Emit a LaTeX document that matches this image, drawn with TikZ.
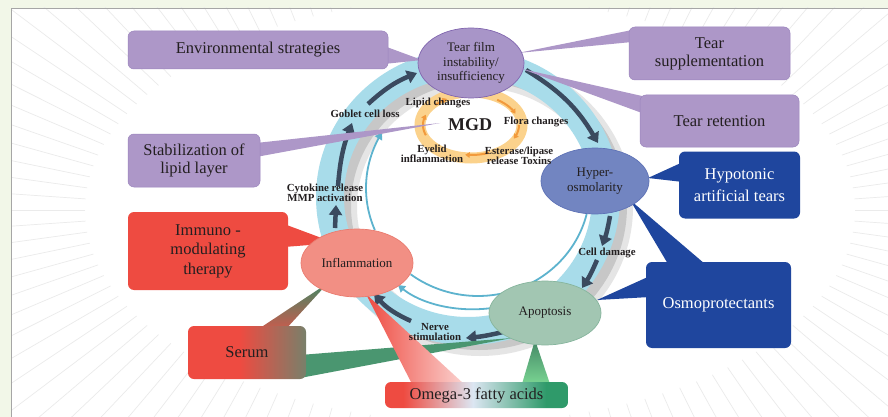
\documentclass[tikz,border=0pt]{standalone}
\usepackage{fontspec}
\setmainfont{Liberation Serif}
\usetikzlibrary{shapes.geometric,arrows.meta,calc}
\definecolor{outerbg}{HTML}{F2F7E8}
\definecolor{purplebox}{HTML}{AD97C8}
\definecolor{purpleborder}{HTML}{9B85BD}
\definecolor{tfill}{HTML}{A895C8}
\definecolor{tborder}{HTML}{8166AF}
\definecolor{darkblue}{HTML}{1F469E}
\definecolor{hyperfill}{HTML}{7285C1}
\definecolor{hyperborder}{HTML}{5E72B6}
\definecolor{redbox}{HTML}{EE4B41}
\definecolor{inflamfill}{HTML}{F28F84}
\definecolor{inflamborder}{HTML}{EA7C70}
\definecolor{apopfill}{HTML}{A2C6B2}
\definecolor{apopborder}{HTML}{86B59D}
\definecolor{greenw}{HTML}{4A9670}
\definecolor{bandblue}{HTML}{A8DCEA}
\definecolor{thinb}{HTML}{5DB3CE}
\definecolor{darkarr}{HTML}{3A4A5F}
\definecolor{oring}{HTML}{FBD28C}
\definecolor{oarrc}{HTML}{F29A3C}
\definecolor{txt}{HTML}{231F20}
\definecolor{olivec}{HTML}{78806A}
\definecolor{lightmid}{HTML}{DCE6F2}
\definecolor{greenr}{HTML}{2F9A6A}
\pgfdeclarehorizontalshading{serumshade}{100bp}{color(0bp)=(redbox); color(25bp)=(redbox); color(47bp)=(redbox); color(75bp)=(olivec); color(100bp)=(olivec)}
\pgfdeclarehorizontalshading{omegashade}{100bp}{color(0bp)=(redbox); color(25bp)=(redbox); color(30bp)=(redbox); color(49bp)=(lightmid); color(69bp)=(greenr); color(100bp)=(greenr)}
\begin{document}
\begin{tikzpicture}[x=1pt,y=-1pt,
  boxbase/.style={rectangle, rounded corners=6pt, align=center, inner sep=0pt, font=\fontsize{16.5}{18}\selectfont},
  pbox/.style={boxbase, fill=purplebox, draw=purpleborder, line width=0.5pt, text=txt},
  bbox/.style={boxbase, fill=darkblue, text=white, font=\fontsize{16.5}{22}\selectfont},
  rbox/.style={boxbase, fill=redbox, text=txt, font=\fontsize{16.5}{19.5}\selectfont},
  ellnode/.style={ellipse, inner sep=0pt, align=center, text=txt, line width=0.7pt, font=\fontsize{13}{14.5}\selectfont},
  lab/.style={align=center, inner sep=0pt, text=txt, font=\bfseries\fontsize{10.8}{10}\selectfont},
  darr/.style={draw=darkarr, line width=4.5pt, -{Triangle[length=10pt,width=13pt]}},
  oarr/.style={draw=oarrc, line width=2pt, -{Triangle[length=4.5pt,width=5.5pt]}},
  thinline/.style={draw=thinb, line width=1.8pt},
  thinarr/.style={thinline, -{Triangle[length=7pt,width=8pt]}}
]
\useasboundingbox (0,0) rectangle (888,417);
\fill[outerbg] (0,0) rectangle (888,417);
\fill[white] (11,8) rectangle (888,417);
\begin{scope}
  \clip (11,8) rectangle (888,417);
  \foreach \a in {0,3,...,357}
    \draw[black!8, line width=0.7pt] ($(470,210)+(\a:385 and 212)$) -- ($(470,210)+(\a:950)$);
\end{scope}
\draw[gray!70, line width=0.8pt] (11,417) -- (11,8) -- (888,8);

% shadow and band
\draw[black!10, line width=30pt] (480,207) ellipse [x radius=138, y radius=134];
\draw[black!22, line width=20pt] (479,206) ellipse [x radius=138, y radius=134];
\draw[bandblue, line width=28pt] (468,197) ellipse [x radius=138, y radius=134];

% thin blue lines
\draw[thinline] plot[domain=14:127, samples=60] ({478+112*cos(\x)},{188+108*sin(\x)});
\draw[thinarr] plot[domain=157:211, samples=30] ({478+112*cos(\x)},{188+108*sin(\x)});
\coordinate (tbs) at (492,308);
\coordinate (tbe) at (398,285);
\draw[thinarr] (tbs) .. controls (455,313) and (420,303) .. (tbe);

% orange ring
\draw[oring, line width=11pt] (471,125) ellipse [x radius=51, y radius=33];
\draw[oarr] plot[domain=160:200, samples=15] ({471+48*cos(\x)},{125+30*sin(\x)});
\draw[oarr] plot[domain=222:240, samples=10] ({471+48*cos(\x)},{125+30*sin(\x)});
\draw[oarr] plot[domain=303:338, samples=15] ({471+48*cos(\x)},{125+30*sin(\x)});
\draw[oarr] plot[domain=0:27, samples=12] ({471+48*cos(\x)},{125+30*sin(\x)});
\draw[oarr] plot[domain=68:97, samples=12] ({471+48*cos(\x)},{125+30*sin(\x)});

% dark cycle arrows
\coordinate (d1s) at (335,228); \coordinate (d1e) at (336,205);
\coordinate (d2s) at (338,186); \coordinate (d2e) at (352,123);
\coordinate (d3s) at (368,104); \coordinate (d3e) at (417,73);
\coordinate (d4s) at (526,70);  \coordinate (d4e) at (598,143);
\coordinate (d5s) at (610,216); \coordinate (d5e) at (602,246);
\coordinate (d6s) at (597,260); \coordinate (d6e) at (582,288);
\coordinate (d7s) at (503,332); \coordinate (d7e) at (466,338);
\coordinate (d8s) at (411,321); \coordinate (d8e) at (374,294);
\draw[darr] (d1s) -- (d1e);
\draw[darr] (d2s) to[bend left=8] (d2e);
\draw[darr] (d3s) to[bend left=10] (d3e);
\draw[darr] (d4s) to[bend left=14] (d4e);
\draw[darr] (d5s) to[bend left=5] (d5e);
\draw[darr] (d6s) to[bend left=5] (d6e);
\draw[darr] (d7s) to[bend left=4] (d7e);
\draw[darr] (d8s) to[bend left=12] (d8e);

% callout wedges
\fill[purplebox] (384,46) -- (422,60) -- (384,64) -- cycle;
\fill[purplebox] (518,53) -- (632,30) -- (632,42) -- cycle;
\fill[purplebox] (522,69) -- (642,96) -- (642,113) -- cycle;
\fill[purplebox] (256,143) -- (440,123) -- (256,157) -- cycle;
\fill[redbox] (284,224) -- (335,243) -- (284,247) -- cycle;
\fill[darkblue] (648,178) -- (683,162) -- (683,182) -- cycle;
\fill[darkblue] (630,200) -- (668,264) -- (705,264) -- cycle;
\fill[darkblue] (597,300) -- (650,276) -- (650,297) -- cycle;
\shade[top color=greenw!90!black, bottom color=redbox!70!olivec] (257,330) -- (328,283) -- (285,330) -- cycle;
\fill[greenw] (300,355) -- (512,338) -- (300,378) -- cycle;
\shade[left color=redbox, middle color=redbox!85!white, right color=redbox!25!white] (366,294) -- (412,384) -- (464,384) -- cycle;
\shade[top color=greenw!90!black, bottom color=greenr!70!green!60!white] (535,340) -- (522,384) -- (550,384) -- cycle;

% ellipses
\node[ellnode, fill=tfill, draw=tborder, minimum width=106pt, minimum height=70pt] (tf) at (471,63) {Tear film\\instability/\\insufficiency};
\node[ellnode, fill=hyperfill, draw=hyperborder, minimum width=108pt, minimum height=66pt] (hyper) at (595,181) {Hyper-\\osmolarity};
\node[ellnode, fill=inflamfill, draw=inflamborder, minimum width=112pt, minimum height=68pt] (inflam) at (357,263) {Inflammation};
\node[ellnode, fill=apopfill, draw=apopborder, minimum width=112pt, minimum height=64pt] (apop) at (545,313) {Apoptosis};

% boxes
\node[pbox, minimum width=260pt, minimum height=38pt] (env) at (258,50) {Environmental strategies};
\node[pbox, minimum width=161pt, minimum height=53pt] (tsup) at (709.5,53.5) {Tear\\supplementation};
\node[pbox, minimum width=159pt, minimum height=52pt] (tret) at (719.5,121) {Tear retention};
\node[pbox, minimum width=132pt, minimum height=53pt] (stab) at (194,160.5) {Stabilization of\\lipid layer};
\node[bbox, minimum width=121pt, minimum height=67pt] (hypo) at (739.5,185) {Hypotonic\\artificial tears};
\node[bbox, minimum width=145pt, minimum height=86pt] (osmo) at (718.5,305) {Osmoprotectants};
\node[rbox, minimum width=160pt, minimum height=78pt] (immu) at (208,251) {Immuno -\\modulating\\therapy};
\node[boxbase, shade, shading=serumshade, text=txt, minimum width=118pt, minimum height=53pt] (serum) at (247,352.5) {Serum};
\node[boxbase, shade, shading=omegashade, text=txt, minimum width=183pt, minimum height=26pt] (omega) at (476.5,395) {Omega-3 fatty acids};

% labels
\node[lab] (lipid) at (438,103) {Lipid changes};
\node[lab] (flora) at (536,122) {Flora changes};
\node[lab] (ester) at (519,156) {Esterase/lipase\\release Toxins};
\node[lab] (eyelid) at (432,153.5) {Eyelid\\inflammation};
\node[text=txt, inner sep=0pt, font=\bfseries\fontsize{18}{20}\selectfont] (mgd) at (470,125) {MGD};
\node[lab] (goblet) at (365,114) {Goblet cell loss};
\node[lab] (cyto) at (325,193) {Cytokine release\\MMP activation};
\node[lab] (cell) at (607,253) {Cell damage};
\node[lab] (nerve) at (435,332) {Nerve\\stimulation};
\end{tikzpicture}
\end{document}
